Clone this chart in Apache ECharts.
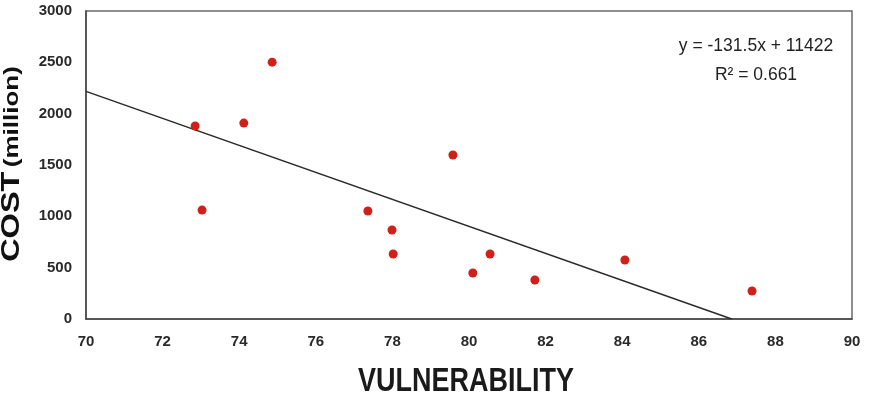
<!DOCTYPE html>
<html>
<head>
<meta charset="utf-8">
<script src="https://cdn.jsdelivr.net/npm/echarts@6/dist/echarts.min.js"></script>
<style>
  html, body { margin: 0; padding: 0; background: #fff; }
  #chart { width: 876px; height: 404px; }
</style>
</head>
<body>
<div id="chart"></div>
<script>
// Data
var vulnerability = [72.85, 73.03, 74.12, 74.86, 77.36, 77.99, 78.02, 79.58, 80.10, 80.55, 81.72, 84.07, 87.39];
var cost          = [1880, 1061, 1908, 2502, 1052, 867, 633, 1597, 448, 633, 380, 575, 273];
var trendLine     = [[70, 2217], [86.86, 0]];
var xTicks = { min: 70, max: 90, interval: 2 };
var yTicks = { min: 0, max: 3000, interval: 500 };
var equationText = 'y = -131.5x + 11422';
var r2Text = 'R² = 0.661';

var points = vulnerability.map(function (v, i) { return [v, cost[i]]; });

var chart = echarts.init(document.getElementById('chart'), null, { renderer: 'canvas' });
chart.setOption({
  animation: false,
  backgroundColor: '#ffffff',
  grid: {
    left: 86, top: 11, width: 766, height: 308,
    show: true, borderColor: '#6a6a6a', borderWidth: 1.5, backgroundColor: 'transparent'
  },
  xAxis: {
    type: 'value', min: xTicks.min, max: xTicks.max, interval: xTicks.interval,
    axisLine: { show: true, lineStyle: { color: '#444', width: 1.5 } },
    axisTick: { show: false },
    splitLine: { show: false },
    axisLabel: {
      color: '#2a2a2a', fontSize: 15, fontWeight: 'bold', fontFamily: 'Liberation Sans', margin: 15,
      formatter: function (v) { return String(v); }
    }
  },
  yAxis: {
    type: 'value', min: yTicks.min, max: yTicks.max, interval: yTicks.interval,
    axisLine: { show: true, lineStyle: { color: '#444', width: 1.5 } },
    axisTick: { show: false },
    splitLine: { show: false },
    axisLabel: {
      color: '#2a2a2a', fontSize: 15, fontWeight: 'bold', fontFamily: 'Liberation Sans', margin: 14,
      formatter: function (v) { return String(v); }
    }
  },
  series: [
    {
      type: 'line', data: trendLine, symbol: 'none', silent: true,
      lineStyle: { color: '#2a2a2a', width: 1.5 }, z: 2
    },
    {
      type: 'scatter', data: points, symbol: 'circle', symbolSize: 9,
      itemStyle: { color: '#d0201a', opacity: 1 }, z: 3
    }
  ],
  graphic: [
    {
      type: 'text', x: 12, y: 164, rotation: Math.PI / 2, scaleX: 1.3,
      style: {
        text: '{a|COST} {b|(million)}',
        align: 'center', verticalAlign: 'middle',
        rich: {
          a: { fontSize: 25, fontWeight: 'bold', fontFamily: 'Liberation Sans', fill: '#111' },
          b: { fontSize: 20, fontWeight: 'bold', fontFamily: 'Liberation Sans', fill: '#111' }
        }
      }
    },
    {
      type: 'text', x: 466, y: 382, scaleY: 1.2,
      style: {
        text: 'VULNERABILITY', align: 'center', verticalAlign: 'middle',
        fontSize: 27, fontWeight: 'bold', fontFamily: 'Liberation Sans', fill: '#1a1a1a'
      }
    },
    {
      type: 'text', x: 756, y: 46,
      style: {
        text: equationText, align: 'center', verticalAlign: 'middle',
        fontSize: 17.5, fontFamily: 'Liberation Sans', fill: '#222'
      }
    },
    {
      type: 'text', x: 756, y: 75,
      style: {
        text: r2Text, align: 'center', verticalAlign: 'middle',
        fontSize: 17.5, fontFamily: 'Liberation Sans', fill: '#222'
      }
    }
  ]
});
</script>
</body>
</html>
